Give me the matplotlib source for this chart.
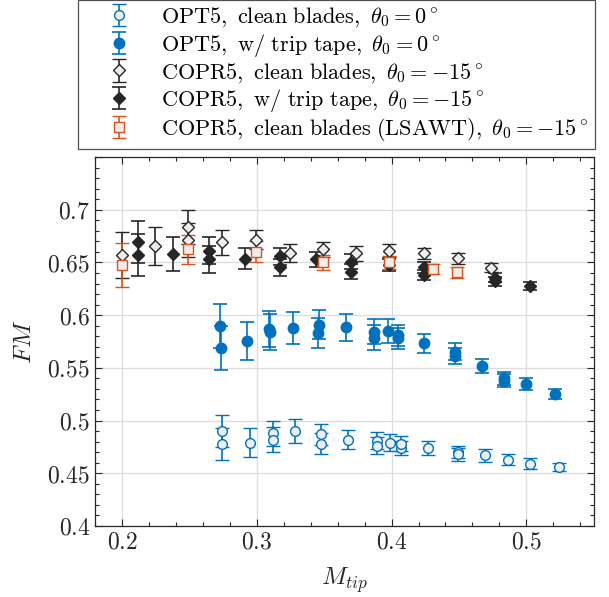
import matplotlib
matplotlib.use("Agg")
import matplotlib.pyplot as plt
from matplotlib.ticker import MultipleLocator, FuncFormatter

plt.rcParams['mathtext.fontset'] = 'cm'
plt.rcParams['font.family'] = ['DejaVu Serif']

# ---- data ----
opt_clean_M = [0.274, 0.274, 0.295, 0.312, 0.312, 0.3285, 0.348, 0.348, 0.368, 0.389, 0.389,
               0.399, 0.407, 0.407, 0.427, 0.449, 0.449, 0.469, 0.486, 0.503, 0.524]
opt_clean_FM = [0.490, 0.478, 0.479, 0.488, 0.482, 0.490, 0.487, 0.478, 0.482, 0.481, 0.476,
                0.479, 0.474, 0.478, 0.474, 0.470, 0.468, 0.467, 0.463, 0.459, 0.456]
opt_clean_err = [0.015, 0.015, 0.0135, 0.012, 0.012, 0.011, 0.010, 0.010, 0.009, 0.008, 0.008,
                 0.008, 0.007, 0.007, 0.007, 0.006, 0.006, 0.006, 0.005, 0.005, 0.004]

opt_trip_M = [0.2726, 0.2733, 0.2931, 0.309, 0.3095, 0.327, 0.3458, 0.3454, 0.3662, 0.3867, 0.3867,
              0.3971, 0.4046, 0.4046, 0.4244, 0.4467, 0.4467, 0.467, 0.4831, 0.4831, 0.500, 0.5215]
opt_trip_FM = [0.590, 0.569, 0.5755, 0.5866, 0.5837, 0.588, 0.591, 0.583, 0.5885, 0.5843, 0.5786,
               0.585, 0.581, 0.578, 0.5733, 0.5653, 0.5612, 0.5518, 0.540, 0.5378, 0.5347, 0.5252]
opt_trip_err = [0.021, 0.021, 0.018, 0.017, 0.017, 0.015, 0.014, 0.014, 0.013, 0.012, 0.012,
                0.011, 0.010, 0.010, 0.009, 0.008, 0.008, 0.007, 0.006, 0.006, 0.006, 0.005]

copr_clean_M = [0.200, 0.2245, 0.2493, 0.2493, 0.2745, 0.2993, 0.3243, 0.3488, 0.3736, 0.3984,
                0.4239, 0.4491, 0.4739]
copr_clean_FM = [0.657, 0.6656, 0.6833, 0.6713, 0.669, 0.6713, 0.6592, 0.6624, 0.6587, 0.6612,
                 0.6587, 0.6539, 0.645]
copr_clean_err = [0.022, 0.018, 0.016, 0.016, 0.012, 0.009, 0.0085, 0.007, 0.007, 0.006,
                  0.005, 0.005, 0.004]

copr_trip_M = [0.2121, 0.2121, 0.2379, 0.2646, 0.2646, 0.2911, 0.3174, 0.3174, 0.3439, 0.3698,
               0.3698, 0.3984, 0.4239, 0.4239, 0.4764, 0.4764, 0.5029]
copr_trip_FM = [0.6697, 0.657, 0.658, 0.6612, 0.653, 0.6533, 0.656, 0.6454, 0.653, 0.6507,
                0.6412, 0.6476, 0.6454, 0.638, 0.6355, 0.632, 0.6276]
copr_trip_err = [0.020, 0.020, 0.016, 0.013, 0.013, 0.010, 0.008, 0.008, 0.007, 0.007,
                 0.007, 0.006, 0.005, 0.005, 0.004, 0.004, 0.004]

lsawt_M = [0.200, 0.2493, 0.2993, 0.3488, 0.3984, 0.4306, 0.4486]
lsawt_FM = [0.6478, 0.6624, 0.6602, 0.650, 0.650, 0.6438, 0.6406]
lsawt_err = [0.021, 0.014, 0.010, 0.007, 0.006, 0.005, 0.005]

labels = [r"$\mathrm{OPT5,\ clean\ blades,}\ \theta_0 = 0^\circ$",
          r"$\mathrm{OPT5,\ w/\ trip\ tape,}\ \theta_0 = 0^\circ$",
          r"$\mathrm{COPR5,\ clean\ blades,}\ \theta_0 = -15^\circ$",
          r"$\mathrm{COPR5,\ w/\ trip\ tape,}\ \theta_0 = -15^\circ$",
          r"$\mathrm{COPR5,\ clean\ blades\ (LSAWT),}\ \theta_0 = -15^\circ$"]

BLUE = '#0072BD'
ORANGE = '#D95319'
BLACK = '#262626'
LIGHT = '#EEEEEE'

fig = plt.figure(figsize=(6.09, 5.97), dpi=100)
ax = fig.add_axes([0.156, 0.119, 0.819, 0.618])

common = dict(linestyle='none', capsize=5, elinewidth=1.2, capthick=1.2)

ax.errorbar(opt_clean_M, opt_clean_FM, yerr=opt_clean_err, marker='o', ms=7,
            mfc=LIGHT, mec=BLUE, mew=1.0, color=BLUE, label=labels[0], **common)
ax.errorbar(opt_trip_M, opt_trip_FM, yerr=opt_trip_err, marker='o', ms=7.5,
            mfc=BLUE, mec=BLUE, color=BLUE, label=labels[1], **common)
ax.errorbar(copr_clean_M, copr_clean_FM, yerr=copr_clean_err, marker='D', ms=6.5,
            mfc=LIGHT, mec=BLACK, mew=1.0, color=BLACK, label=labels[2], **common)
ax.errorbar(copr_trip_M, copr_trip_FM, yerr=copr_trip_err, marker='D', ms=6.5,
            mfc=BLACK, mec=BLACK, color=BLACK, label=labels[3], **common)
ax.errorbar(lsawt_M, lsawt_FM, yerr=lsawt_err, marker='s', ms=7.5,
            mfc=LIGHT, mec=ORANGE, mew=1.0, color=ORANGE, label=labels[4], **common)

ax.set_xlim(0.18, 0.55)
ax.set_ylim(0.40, 0.75)
ax.xaxis.set_major_locator(MultipleLocator(0.1))
ax.xaxis.set_minor_locator(MultipleLocator(0.02))
ax.yaxis.set_major_locator(MultipleLocator(0.05))
ax.yaxis.set_minor_locator(MultipleLocator(0.01))
fmt = FuncFormatter(lambda v, p: "$%g$" % round(v, 3) if round(v, 3) <= 0.7 else "")
ax.yaxis.set_major_formatter(fmt)
ax.xaxis.set_major_formatter(FuncFormatter(lambda v, p: "$%g$" % round(v, 3)))
ax.tick_params(which='both', direction='in', top=True, right=True, colors=BLACK,
               labelsize=17, width=0.8)
ax.tick_params(which='major', length=5)
ax.tick_params(which='minor', length=3)
ax.grid(True, which='major', color='#DCDCDC', linewidth=0.9)
ax.set_axisbelow(True)
for s in ax.spines.values():
    s.set_color(BLACK)
    s.set_linewidth(0.9)

ax.set_xlabel(r"$M_{tip}$", fontsize=18, color=BLACK, labelpad=8)
ax.set_ylabel(r"$FM$", fontsize=18, color=BLACK, labelpad=8)

leg = fig.legend(loc='upper left', bbox_to_anchor=(0.128, 1.0), fontsize=16,
                 frameon=True, fancybox=False, edgecolor=BLACK, borderpad=0.25,
                 labelspacing=0.1, handletextpad=0.3, handlelength=3.2,
                 borderaxespad=0)
leg.get_frame().set_linewidth(0.9)

fig.savefig("out.png", dpi=100)
